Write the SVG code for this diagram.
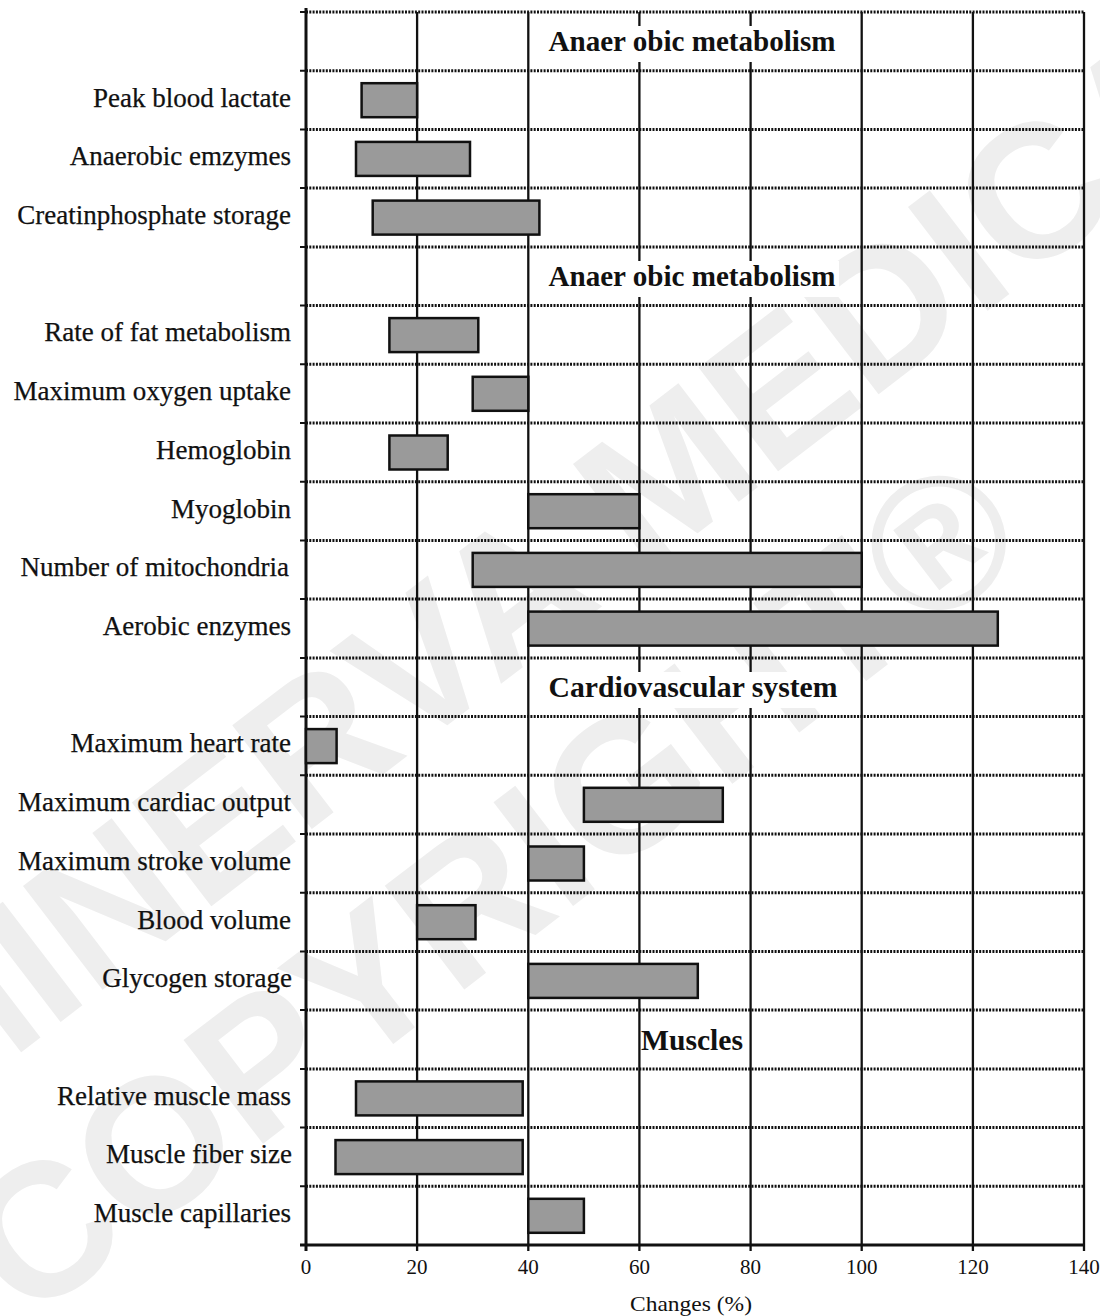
<svg xmlns="http://www.w3.org/2000/svg" width="1100" height="1316" viewBox="0 0 1100 1316">
<style>
.wm{font-family:"Liberation Sans",Arial,sans-serif;font-weight:bold;font-size:190px;fill:#eeeeee}
.lbl{font-family:"Liberation Serif","Times New Roman",serif;font-size:27px;fill:#111;text-anchor:end;stroke:#111;stroke-width:0.25}
.hdr{font-family:"Liberation Serif","Times New Roman",serif;font-size:29px;font-weight:bold;fill:#111;text-anchor:middle}
.hbg{fill:#fff}
.num{font-family:"Liberation Serif","Times New Roman",serif;font-size:21px;fill:#111;text-anchor:middle}
.bar{fill:#9a9a9a;stroke:#111;stroke-width:2.5}
.dot{stroke:#111;stroke-width:3;stroke-dasharray:2 1.3;fill:none}
.grid{stroke:#111;stroke-width:2.3;fill:none}
.axis{stroke:#111;stroke-width:3;fill:none}
.tick{stroke:#111;stroke-width:2;fill:none}
</style>
<rect width="1100" height="1316" fill="#fff"/>
<g id="watermark">
<text class="wm" transform="translate(-75,1126) rotate(-37.5)">MINERVA MEDICA</text>
<text class="wm" transform="translate(27,1325) rotate(-37.5)">COPYRIGHT®</text>
</g>
<g id="connectors">
<g id="hgrid">
<line class="dot" x1="306" y1="12" x2="1084" y2="12"/>
<line class="dot" x1="306" y1="70.7" x2="1084" y2="70.7"/>
<line class="dot" x1="306" y1="129.4" x2="1084" y2="129.4"/>
<line class="dot" x1="306" y1="188.1" x2="1084" y2="188.1"/>
<line class="dot" x1="306" y1="246.9" x2="1084" y2="246.9"/>
<line class="dot" x1="306" y1="305.6" x2="1084" y2="305.6"/>
<line class="dot" x1="306" y1="364.3" x2="1084" y2="364.3"/>
<line class="dot" x1="306" y1="423" x2="1084" y2="423"/>
<line class="dot" x1="306" y1="481.7" x2="1084" y2="481.7"/>
<line class="dot" x1="306" y1="540.4" x2="1084" y2="540.4"/>
<line class="dot" x1="306" y1="599.1" x2="1084" y2="599.1"/>
<line class="dot" x1="306" y1="657.9" x2="1084" y2="657.9"/>
<line class="dot" x1="306" y1="716.6" x2="1084" y2="716.6"/>
<line class="dot" x1="306" y1="775.3" x2="1084" y2="775.3"/>
<line class="dot" x1="306" y1="834" x2="1084" y2="834"/>
<line class="dot" x1="306" y1="892.7" x2="1084" y2="892.7"/>
<line class="dot" x1="306" y1="951.4" x2="1084" y2="951.4"/>
<line class="dot" x1="306" y1="1010.1" x2="1084" y2="1010.1"/>
<line class="dot" x1="306" y1="1068.9" x2="1084" y2="1068.9"/>
<line class="dot" x1="306" y1="1127.6" x2="1084" y2="1127.6"/>
<line class="dot" x1="306" y1="1186.3" x2="1084" y2="1186.3"/>
</g>
<g id="vgrid">
<line class="grid" x1="417.1" y1="12" x2="417.1" y2="1251"/>
<line class="grid" x1="528.3" y1="12" x2="528.3" y2="1251"/>
<line class="grid" x1="639.4" y1="12" x2="639.4" y2="1251"/>
<line class="grid" x1="750.6" y1="12" x2="750.6" y2="1251"/>
<line class="grid" x1="861.7" y1="12" x2="861.7" y2="1251"/>
<line class="grid" x1="972.9" y1="12" x2="972.9" y2="1251"/>
<line class="grid" x1="1084" y1="12" x2="1084" y2="1251"/>
</g>
<g id="axes">
<line class="axis" x1="306" y1="8" x2="306" y2="1251"/>
<line class="axis" x1="300" y1="1245" x2="1085" y2="1245"/>
<path class="tick" d="M300 12H306M300 70.7H306M300 129.4H306M300 188.1H306M300 246.9H306M300 305.6H306M300 364.3H306M300 423H306M300 481.7H306M300 540.4H306M300 599.1H306M300 657.9H306M300 716.6H306M300 775.3H306M300 834H306M300 892.7H306M300 951.4H306M300 1010.1H306M300 1068.9H306M300 1127.6H306M300 1186.3H306"/>
</g>
</g>
<g id="x-axis-labels">
<text class="num" x="306" y="1274">0</text>
<text class="num" x="417.1" y="1274">20</text>
<text class="num" x="528.3" y="1274">40</text>
<text class="num" x="639.4" y="1274">60</text>
<text class="num" x="750.6" y="1274">80</text>
<text class="num" x="861.7" y="1274">100</text>
<text class="num" x="972.9" y="1274">120</text>
<text class="num" x="1084" y="1274">140</text>
<text class="num" x="691" y="1311" textLength="122" lengthAdjust="spacingAndGlyphs">Changes (%)</text>
</g>
<g id="header-anaerobic-1"><rect class="hbg" x="545" y="26" width="294" height="36"/><text class="hdr" x="692" y="51.4" textLength="287" lengthAdjust="spacingAndGlyphs">Anaer obic metabolism</text></g>
<g id="row-peak-blood-lactate"><text class="lbl" x="291" y="106.5">Peak blood lactate</text><rect class="bar" x="361.6" y="83.2" width="55.5" height="34"/></g>
<g id="row-anaerobic-enzymes"><text class="lbl" x="291" y="165.2">Anaerobic emzymes</text><rect class="bar" x="356" y="141.9" width="114" height="34"/></g>
<g id="row-creatinphosphate"><text class="lbl" x="291" y="223.9">Creatinphosphate storage</text><rect class="bar" x="372.7" y="200.6" width="166.7" height="34"/></g>
<g id="header-anaerobic-2"><rect class="hbg" x="545" y="261" width="294" height="36"/><text class="hdr" x="692" y="286.3" textLength="287" lengthAdjust="spacingAndGlyphs">Anaer obic metabolism</text></g>
<g id="row-fat-metabolism"><text class="lbl" x="291" y="341.4">Rate of fat metabolism</text><rect class="bar" x="389.4" y="318.1" width="88.9" height="34"/></g>
<g id="row-max-oxygen"><text class="lbl" x="291" y="400.1">Maximum oxygen uptake</text><rect class="bar" x="472.7" y="376.8" width="55.6" height="34"/></g>
<g id="row-hemoglobin"><text class="lbl" x="291" y="458.8">Hemoglobin</text><rect class="bar" x="389.4" y="435.5" width="58.3" height="34"/></g>
<g id="row-myoglobin"><text class="lbl" x="291" y="517.5">Myoglobin</text><rect class="bar" x="528.3" y="494.2" width="111.1" height="34"/></g>
<g id="row-mitochondria"><text class="lbl" x="289" y="576.2">Number of mitochondria</text><rect class="bar" x="472.7" y="552.9" width="389" height="34"/></g>
<g id="row-aerobic-enzymes"><text class="lbl" x="291" y="634.9">Aerobic enzymes</text><rect class="bar" x="528.3" y="611.6" width="469.5" height="34"/></g>
<g id="header-cardiovascular"><rect class="hbg" x="545" y="672" width="297" height="36"/><text class="hdr" x="693" y="697.3" textLength="289" lengthAdjust="spacingAndGlyphs">Cardiovascular system</text></g>
<g id="row-max-heart-rate"><text class="lbl" x="291" y="752.4">Maximum heart rate</text><rect class="bar" x="306" y="729.1" width="30.6" height="34"/></g>
<g id="row-max-cardiac-output"><text class="lbl" x="291" y="811.1">Maximum cardiac output</text><rect class="bar" x="583.9" y="787.8" width="138.9" height="34"/></g>
<g id="row-max-stroke-volume"><text class="lbl" x="291" y="869.8">Maximum stroke volume</text><rect class="bar" x="528.3" y="846.5" width="55.6" height="34"/></g>
<g id="row-blood-volume"><text class="lbl" x="291" y="928.5">Blood volume</text><rect class="bar" x="417.1" y="905.2" width="58.4" height="34"/></g>
<g id="row-glycogen"><text class="lbl" x="292" y="987.2">Glycogen storage</text><rect class="bar" x="528.3" y="963.9" width="169.5" height="34"/></g>
<g id="header-muscles"><rect class="hbg" x="641" y="1024" width="104" height="36"/><text class="hdr" x="692" y="1049.5" textLength="102" lengthAdjust="spacingAndGlyphs">Muscles</text></g>
<g id="row-relative-muscle-mass"><text class="lbl" x="291" y="1104.7">Relative muscle mass</text><rect class="bar" x="356" y="1081.4" width="166.7" height="34"/></g>
<g id="row-muscle-fiber-size"><text class="lbl" x="292" y="1163.4">Muscle fiber size</text><rect class="bar" x="335.5" y="1140.1" width="187.2" height="34"/></g>
<g id="row-muscle-capillaries"><text class="lbl" x="291" y="1222.1">Muscle capillaries</text><rect class="bar" x="528.3" y="1198.8" width="55.6" height="34"/></g>
</svg>
